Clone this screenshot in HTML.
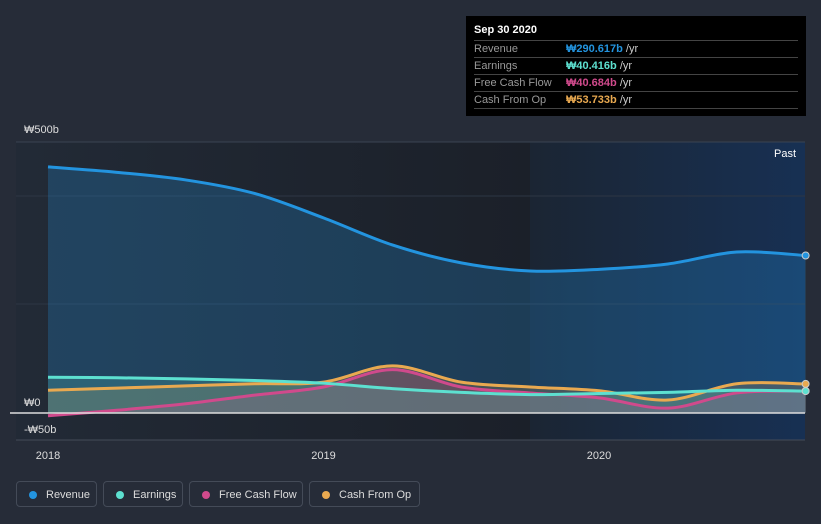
<!DOCTYPE html>
<html><head><meta charset="utf-8"><style>
body{margin:0;width:821px;height:524px;background:#262c38;font-family:"Liberation Sans",sans-serif;overflow:hidden;position:relative}
.tt{position:absolute;left:466px;top:16px;width:340px;height:100px;background:#000;color:#fff;font-size:11px}
.tt .h{position:absolute;left:8px;top:8px;font-weight:bold}
.row{position:absolute;left:8px;width:324px;border-top:1px solid #444;height:16px;line-height:16px;color:#999}
.row span{position:absolute;left:92px;font-weight:bold}
.row i{font-style:normal;color:#ccc;font-weight:normal}
.leg{position:absolute;top:481px;height:26px;border:1px solid #444b58;border-radius:4px;color:#ddd;font-size:11px;line-height:26px;box-sizing:border-box;padding-left:29px}
.leg b{position:absolute;left:12px;top:9px;width:8px;height:8px;border-radius:50%}
</style></head><body>
<svg width="821" height="524" style="position:absolute;left:0;top:0">
<defs>
<linearGradient id="bg" x1="0" x2="1"><stop offset="0" stop-color="#222a36"/><stop offset="1" stop-color="#1b2029"/></linearGradient>
<linearGradient id="bg2" x1="0" x2="1"><stop offset="0" stop-color="#1b2533"/><stop offset="1" stop-color="#173053"/></linearGradient>
</defs>
<rect x="16" y="142" width="514" height="298" fill="url(#bg)"/>
<rect x="530" y="142" width="275" height="298" fill="url(#bg2)"/>
<line x1="16" x2="805" y1="142" y2="142" stroke="#3a4352"/>
<line x1="16" x2="805" y1="196" y2="196" stroke="#2d3644"/>
<line x1="16" x2="805" y1="304" y2="304" stroke="#2d3644"/>
<line x1="16" x2="805" y1="440" y2="440" stroke="#444b58"/>
<g id="series"></g>
<line x1="10" x2="805" y1="413" y2="413" stroke="#ddd" stroke-width="1.5"/>
<g id="axes" font-size="11" fill="#ddd"></g>
<text x="774" y="157" font-size="11" fill="#fff">Past</text>
</svg>
<div class="tt">
<div class="h">Sep 30 2020</div>
<div class="row" style="top:24px">Revenue<span style="color:#2394df">₩290.617b <i>/yr</i></span></div>
<div class="row" style="top:41px">Earnings<span style="color:#5de0d0">₩40.416b <i>/yr</i></span></div>
<div class="row" style="top:58px">Free Cash Flow<span style="color:#d04a8c">₩40.684b <i>/yr</i></span></div>
<div class="row" style="top:75px;border-bottom:1px solid #444">Cash From Op<span style="color:#e9a950">₩53.733b <i>/yr</i></span></div>
</div>
<div class="leg" style="left:16px;width:81px"><b style="background:#2394df"></b>Revenue</div>
<div class="leg" style="left:103px;width:80px"><b style="background:#5de0d0"></b>Earnings</div>
<div class="leg" style="left:189px;width:114px"><b style="background:#d04a8c"></b>Free Cash Flow</div>
<div class="leg" style="left:309px;width:111px"><b style="background:#e9a950"></b>Cash From Op</div>
<script>
const times=[2018,2018.25,2018.5,2018.75,2019,2019.25,2019.5,2019.75,2020,2020.25,2020.5,2020.75];
const revenue=[454,444,430,405,360,310,277,262,265,275,297,290.6];
const earnings=[66,65,63,60,55,45,38,34,36,38,42,40.4];
const fcf=[-5,5,17,33,48,80,48,37,28,9,37,40.7];
const cfo=[42,46,50,54,57,87,57,48,41,24,54,53.7];
const yTicks=[500,0,-50];const yLabels=["₩500b","₩0","-₩50b"];
const xTicks=[2018,2019,2020];
const X=t=>48+(t-2018)*275.5, Y=v=>413-v*0.542;
const NS="http://www.w3.org/2000/svg";
function path(vals){const p=vals.map((v,i)=>[X(times[i]),Y(v)]);let d="M"+p[0];
for(let i=0;i<p.length-1;i++){const a=p[Math.max(0,i-1)],b=p[i],c=p[i+1],e=p[Math.min(p.length-1,i+2)];
const c1=[b[0]+(c[0]-a[0])/6,b[1]+(c[1]-a[1])/6],c2=[c[0]-(e[0]-b[0])/6,c[1]-(e[1]-b[1])/6];d+="C"+c1+" "+c2+" "+c;}return d;}
const g=document.getElementById('series');
const series=[[revenue,"#2394df","revenue",0.25],[cfo,"#e9a950","cash-from-op",0.2],[fcf,"#d04a8c","free-cash-flow",0.2],[earnings,"#5de0d0","earnings",0.2]];
series.forEach(([v,c,n,o])=>{const d=path(v);
const a=document.createElementNS(NS,'path');a.setAttribute('d',d+"L"+X(times[times.length-1])+","+Y(0)+"L"+X(times[0])+","+Y(0)+"Z");a.setAttribute('fill',c);a.setAttribute('fill-opacity',o);


g.appendChild(a);});
series.forEach(([v,c,n])=>{const l=document.createElementNS(NS,'path');l.setAttribute('d',path(v));l.setAttribute('fill','none');l.setAttribute('stroke',c);l.setAttribute('stroke-width','3');


g.appendChild(l);
const dot=document.createElementNS(NS,'circle');dot.setAttribute('cx',X(times[times.length-1]));dot.setAttribute('cy',Y(v[v.length-1]));dot.setAttribute('r',3.5);dot.setAttribute('fill',c);dot.setAttribute('stroke','#ccc');


g.appendChild(dot);});
const ax=document.getElementById('axes');
yTicks.forEach((v,i)=>{const t=document.createElementNS(NS,'text');t.setAttribute('x',24);t.setAttribute('y',v===500?Y(v)-9:(v<0?Y(v)-7:Y(v)-7));t.textContent=yLabels[i];


ax.appendChild(t);});
xTicks.forEach(v=>{const t=document.createElementNS(NS,'text');t.setAttribute('x',X(v));t.setAttribute('y',459);t.setAttribute('text-anchor','middle');t.textContent=v;


ax.appendChild(t);});
</script>
</body></html>
